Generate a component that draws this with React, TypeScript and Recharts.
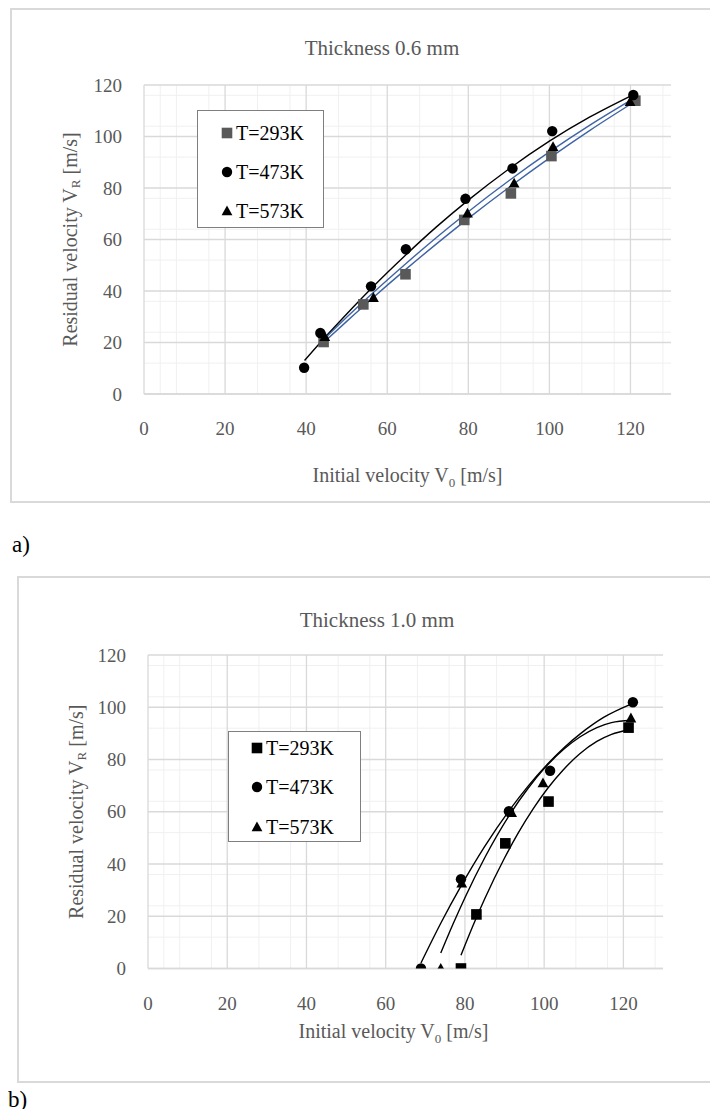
import React from 'react';
import { ComposedChart, Scatter, Line, XAxis, YAxis, CartesianGrid, Legend } from 'recharts';

// ---------- shared axis data ----------
const SERIES_NAMES = ['T=293K', 'T=473K', 'T=573K'];
const X_TICKS = [0, 20, 40, 60, 80, 100, 120];
const Y_TICKS = [0, 20, 40, 60, 80, 100, 120];
const X_MINOR = [4, 8, 12, 16, 24, 28, 32, 36, 44, 48, 52, 56, 64, 68, 72, 76, 84, 88, 92, 96, 104, 108, 112, 116, 124, 128];
const Y_MINOR = [4, 8, 12, 16, 24, 28, 32, 36, 44, 48, 52, 56, 64, 68, 72, 76, 84, 88, 92, 96, 104, 108, 112, 116];

// ---------- a) Thickness 0.6 mm ----------
const A_V0_293 = [44.3, 54.1, 64.5, 79.0, 90.5, 100.5, 121.2];
const A_VR_293 = [20.2, 34.8, 46.5, 67.6, 77.9, 92.4, 113.9];
const A_V0_473 = [39.5, 43.5, 56.0, 64.6, 79.3, 90.9, 100.7, 120.7];
const A_VR_473 = [10.2, 23.7, 41.8, 56.2, 75.8, 87.6, 102.1, 116.1];
const A_V0_573 = [44.6, 56.6, 79.8, 91.3, 100.9, 119.9];
const A_VR_573 = [22.2, 37.4, 70.2, 81.8, 96.0, 113.5];

// trend curves
const A_FIT_X_293 = [44.3, 50, 56, 64.5, 72, 80, 90, 100, 110, 121];
const A_FIT_Y_293 = [20.0, 28.2, 36.7, 48.3, 58.1, 68.2, 80.2, 91.6, 102.4, 113.5];
const A_FIT_X_473 = [39.6, 45, 50, 56, 64.5, 72, 80, 90, 100, 110, 121];
const A_FIT_Y_473 = [13.0, 22.6, 31.1, 40.9, 53.9, 64.7, 75.3, 87.4, 98.2, 107.6, 116.5];
const A_FIT_X_573 = [44.6, 50, 56.5, 64.5, 72, 80, 90, 100, 110, 120];
const A_FIT_Y_573 = [21.6, 29.8, 39.3, 50.5, 60.6, 70.8, 82.8, 94.0, 104.4, 114.0];

// ---------- b) Thickness 1.0 mm ----------
const B_V0_293 = [79.0, 82.9, 90.2, 101.1, 121.3];
const B_VR_293 = [0, 20.7, 47.9, 63.9, 92.2];
const B_V0_473 = [68.9, 79.0, 91.1, 101.5, 122.4];
const B_VR_473 = [0, 34.2, 60.2, 75.7, 101.9];
const B_V0_573 = [73.9, 79.2, 91.8, 99.7, 121.9];
const B_VR_573 = [0, 32.6, 59.6, 71.0, 95.8];

const B_FIT_X_293 = [79, 82, 85, 90, 93.5, 97.3, 101, 104.8, 109, 113.3, 117, 121.3];
const B_FIT_Y_293 = [5.1, 16.3, 26.7, 42.3, 52.0, 61.3, 69.2, 76.0, 82.2, 86.9, 89.6, 91.4];
const B_FIT_X_473 = [68.9, 74, 79, 85, 91.2, 96, 100.7, 105, 109.1, 115, 122.4];
const B_FIT_Y_473 = [2.1, 17.6, 31.5, 46.7, 60.5, 69.9, 78.0, 84.5, 89.8, 96.1, 101.5];
const B_FIT_X_573 = [73.9, 77, 80, 85, 91.4, 96, 100, 105, 109, 113.3, 117, 121.9];
const B_FIT_Y_573 = [5.9, 17.0, 27.1, 42.4, 59.1, 69.1, 76.5, 84.0, 88.6, 92.2, 94.1, 95.0];

const zip = (xs: number[], ys: number[]) => xs.map((x, i) => ({ x, y: ys[i] }));

const FONT = '"Liberation Serif", Tinos, "Times New Roman", "Noto Serif", "DejaVu Serif", serif';
const GRAY_TEXT = '#595959';
const BLUE = '#3e64a4';

// ---------- marker shapes ----------
type Kind = 'square' | 'circle' | 'triangle';
const Marker = ({ kind, cx, cy, fill }: { kind: Kind; cx: number; cy: number; fill: string }) => {
  if (kind === 'square') return <rect x={cx - 5.3} y={cy - 5.3} width={10.6} height={10.6} fill={fill} />;
  if (kind === 'circle') return <circle cx={cx} cy={cy} r={5.2} fill={fill} />;
  return <polygon points={`${cx},${cy - 5.6} ${cx + 5.4},${cy + 4.2} ${cx - 5.4},${cy + 4.2}`} fill={fill} />;
};
const shapeOf = (kind: Kind, fill: string) => (p: any) => <Marker kind={kind} cx={p.cx} cy={p.cy} fill={fill} />;

const KINDS: Kind[] = ['square', 'circle', 'triangle'];

const LegendBox = ({ colors, rows, markerX, textX, w, h }: any) => (
  <div
    style={{
      width: w,
      height: h,
      border: '1px solid #7f7f7f',
      background: '#fff',
      position: 'relative',
      boxSizing: 'border-box',
      fontFamily: FONT,
      fontSize: 20,
      color: '#000',
    }}
  >
    {SERIES_NAMES.map((name, i) => (
      <div key={name} style={{ position: 'absolute', left: 0, top: rows[i] - 12, height: 24, width: w }}>
        <svg width={16} height={24} style={{ position: 'absolute', left: markerX - 8, top: 0 }}>
          <Marker kind={KINDS[i]} cx={8} cy={12} fill={colors[i]} />
        </svg>
        <span style={{ position: 'absolute', left: textX, top: 0, lineHeight: '24px', whiteSpace: 'nowrap' }}>{name}</span>
      </div>
    ))}
  </div>
);

const XTitle = (dx: number, baseline: number) => (props: any) => {
  const vb = props.viewBox;
  const cx = vb.x + vb.width / 2 + dx;
  return (
    <text x={cx} y={baseline} textAnchor="middle" style={{ fontFamily: FONT }} fontSize={20} fill={GRAY_TEXT}>
      Initial velocity V<tspan dy={5} fontSize={13}>0</tspan>
      <tspan dy={-5}> [m/s]</tspan>
    </text>
  );
};

const YTitle = (cx: number) => (props: any) => {
  const vb = props.viewBox;
  const cy = vb.y + vb.height / 2;
  return (
    <text
      x={cx}
      y={cy}
      transform={`rotate(-90 ${cx} ${cy})`}
      textAnchor="middle"
      dominantBaseline="central"
      style={{ fontFamily: FONT }}
      fontSize={20}
      fill={GRAY_TEXT}
    >
      Residual velocity V<tspan dy={5} fontSize={13}>R</tspan>
      <tspan dy={-5}> [m/s]</tspan>
    </text>
  );
};

type PanelProps = {
  width: number;
  height: number;
  margin: { top: number; right: number; bottom: number; left: number };
  pts: { x: number; y: number }[][];
  fits: { x: number; y: number }[][];
  markerColors: string[];
  fitColors: string[];
  legendPos: { left: number; top: number; w: number; h: number; rows: number[]; markerX: number; textX: number };
  xTitleDx: number;
  xTitleBaseline: number;
  yTitleX: number;
};

const Panel = (p: PanelProps) => {
  const tickStyle = { fill: GRAY_TEXT, fontSize: 19, style: { fontFamily: FONT } };
  return (
    <ComposedChart width={p.width} height={p.height} margin={p.margin} style={{ fontFamily: FONT }}>
      <CartesianGrid stroke="#f0f0f0" strokeWidth={1} verticalValues={X_MINOR} horizontalValues={Y_MINOR} />
      <CartesianGrid stroke="#d9d9d9" strokeWidth={1.3} verticalValues={X_TICKS} horizontalValues={Y_TICKS} />
      <XAxis
        type="number"
        dataKey="x"
        domain={[0, 130]}
        ticks={X_TICKS}
        allowDataOverflow
        axisLine={{ stroke: '#d9d9d9', strokeWidth: 1.3 }}
        tickLine={false}
        tickSize={0}
        tickMargin={28}
        tick={tickStyle}
        height={30}
        label={{ content: XTitle(p.xTitleDx, p.xTitleBaseline) }}
      />
      <YAxis
        type="number"
        dataKey="y"
        domain={[0, 120]}
        ticks={Y_TICKS}
        allowDataOverflow
        axisLine={false}
        tickLine={false}
        tickSize={0}
        tickMargin={22}
        tick={tickStyle}
        width={60}
        label={{ content: YTitle(p.yTitleX) }}
      />
      {p.fits.map((d, i) => (
        <Line
          key={'fit' + i}
          data={d}
          dataKey="y"
          type="monotone"
          stroke={p.fitColors[i]}
          strokeWidth={1.4}
          dot={false}
          activeDot={false}
          isAnimationActive={false}
          legendType="none"
        />
      ))}
      {p.pts.map((d, i) => (
        <Scatter
          key={'pts' + i}
          name={SERIES_NAMES[i]}
          data={d}
          dataKey="y"
          shape={shapeOf(KINDS[i], p.markerColors[i])}
          isAnimationActive={false}
        />
      ))}
      <Legend
        layout="vertical"
        align="center"
        verticalAlign="middle"
        wrapperStyle={{ left: p.legendPos.left, top: p.legendPos.top, width: p.legendPos.w, height: p.legendPos.h }}
        content={() => (
          <LegendBox
            colors={p.markerColors}
            rows={p.legendPos.rows}
            markerX={p.legendPos.markerX}
            textX={p.legendPos.textX}
            w={p.legendPos.w}
            h={p.legendPos.h}
          />
        )}
      />
    </ComposedChart>
  );
};

export default function App() {
  const titleStyle: React.CSSProperties = {
    position: 'absolute',
    fontFamily: FONT,
    fontSize: 21,
    color: GRAY_TEXT,
    whiteSpace: 'nowrap',
    transform: 'translate(-50%, -50%)',
  };
  const letterStyle: React.CSSProperties = {
    position: 'absolute',
    fontFamily: FONT,
    fontSize: 23,
    color: '#000',
    lineHeight: '24px',
  };
  return (
    <div style={{ position: 'relative', width: 718, height: 1117, margin: -8, overflow: 'hidden', background: '#fff', fontFamily: FONT }}>
      {/* panel frames */}
      <div style={{ position: 'absolute', left: 10, top: 8, width: 730, height: 495, border: '2px solid #d9d9d9', boxSizing: 'border-box' }} />
      <div style={{ position: 'absolute', left: 17, top: 576, width: 730, height: 507, border: '2px solid #d9d9d9', boxSizing: 'border-box' }} />

      <div style={{ position: 'absolute', left: 0, top: 0 }}>
        <Panel
          width={718}
          height={520}
          margin={{ top: 85, right: 47, bottom: 96, left: 84 }}
          pts={[zip(A_V0_293, A_VR_293), zip(A_V0_473, A_VR_473), zip(A_V0_573, A_VR_573)]}
          fits={[zip(A_FIT_X_293, A_FIT_Y_293), zip(A_FIT_X_473, A_FIT_Y_473), zip(A_FIT_X_573, A_FIT_Y_573)]}
          markerColors={['#595959', '#000', '#000']}
          fitColors={[BLUE, '#000', BLUE]}
          legendPos={{ left: 197, top: 110, w: 127, h: 118, rows: [22, 61, 100], markerX: 29, textX: 38 }}
          xTitleDx={0}
          xTitleBaseline={482}
          yTitleX={70}
        />
      </div>
      <div style={{ ...titleStyle, left: 382, top: 48 }}>Thickness 0.6 mm</div>
      <div style={{ ...letterStyle, left: 12, top: 533 }}>a)</div>

      <div style={{ position: 'absolute', left: 0, top: 560 }}>
        <Panel
          width={718}
          height={540}
          margin={{ top: 95, right: 55, bottom: 101.5, left: 88 }}
          pts={[zip(B_V0_293, B_VR_293), zip(B_V0_473, B_VR_473), zip(B_V0_573, B_VR_573)]}
          fits={[zip(B_FIT_X_293, B_FIT_Y_293), zip(B_FIT_X_473, B_FIT_Y_473), zip(B_FIT_X_573, B_FIT_Y_573)]}
          markerColors={['#000', '#000', '#000']}
          fitColors={['#000', '#000', '#000']}
          legendPos={{ left: 228, top: 171, w: 133, h: 111, rows: [16, 55, 95], markerX: 28, textX: 37 }}
          xTitleDx={-12}
          xTitleBaseline={478}
          yTitleX={76}
        />
      </div>
      <div style={{ ...titleStyle, left: 377, top: 620 }}>Thickness 1.0 mm</div>
      <div style={{ ...letterStyle, left: 8, top: 1088 }}>b)</div>
    </div>
  );
}
